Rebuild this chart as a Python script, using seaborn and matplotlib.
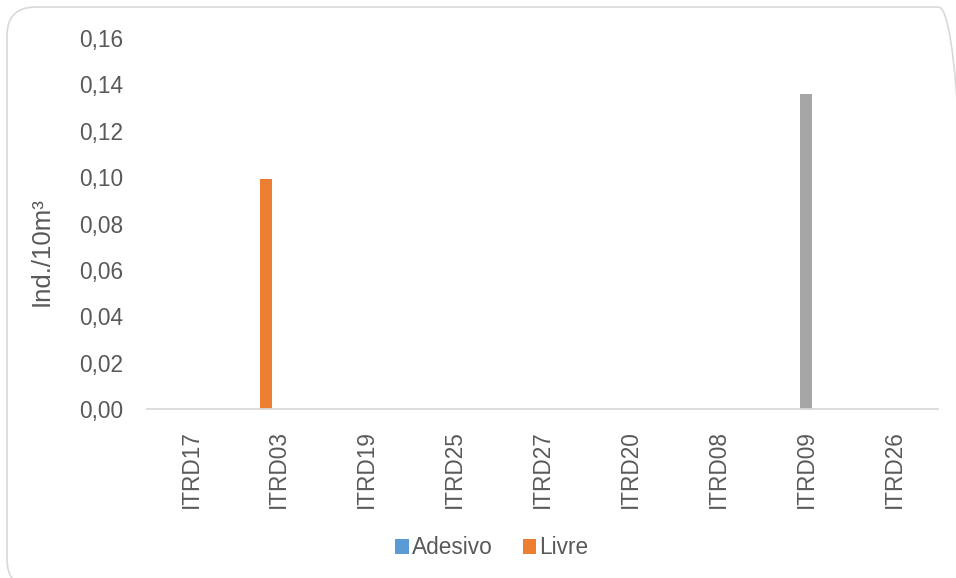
import matplotlib
matplotlib.use("Agg")
import matplotlib.pyplot as plt
from matplotlib.patches import Patch, FancyBboxPatch
from matplotlib.ticker import FuncFormatter, MultipleLocator
import seaborn as sns
import pandas as pd

# Density per station (Ind./10m3) for each sampling series
categories = ["ITRD17", "ITRD03", "ITRD19", "ITRD25", "ITRD27",
              "ITRD20", "ITRD08", "ITRD09", "ITRD26"]
adesivo = [0, 0, 0, 0, 0, 0, 0, 0, 0]
livre = [0, 0.099, 0, 0, 0, 0, 0, 0, 0]
serie3 = [0, 0, 0, 0, 0, 0, 0, 0.136, 0]

series_names = ["Livre", "Série 3", "Adesivo"]
series_colors = {"Adesivo": "#5B9BD5", "Livre": "#ED7D31", "Série 3": "#A5A5A5"}
legend_names = ["Adesivo", "Livre"]

df = pd.concat([
    pd.DataFrame({"estacao": categories, "serie": "Adesivo", "valor": adesivo}),
    pd.DataFrame({"estacao": categories, "serie": "Livre", "valor": livre}),
    pd.DataFrame({"estacao": categories, "serie": "Série 3", "valor": serie3}),
], ignore_index=True)

sns.set_theme(style="white")
plt.rcParams["font.family"] = ["Liberation Sans", "DejaVu Sans"]
text_color = "#595959"
fs = 16.3

fig = plt.figure(figsize=(9.56, 5.78), dpi=100)
ax = fig.add_axes([147 / 956, 1 - 409 / 578, 791 / 956, 371 / 578])

sns.barplot(data=df, x="estacao", y="valor", hue="serie", order=categories,
            hue_order=series_names, palette=series_colors, width=0.437,
            gap=0.06, linewidth=0, saturation=1, errorbar=None, legend=False,
            ax=ax)

ax.set_ylim(0, 0.16)
ax.yaxis.set_major_locator(MultipleLocator(0.02))
ax.yaxis.set_major_formatter(FuncFormatter(lambda v, _: f"{v:.2f}".replace(".", ",")))
ax.set_xlim(-0.5, len(categories) - 0.5)

for side in ["top", "right", "left"]:
    ax.spines[side].set_visible(False)
ax.spines["bottom"].set_color("#D9D9D9")
ax.spines["bottom"].set_linewidth(1.3)

ax.tick_params(axis="y", length=0, pad=17, labelsize=fs, labelcolor=text_color)
ax.tick_params(axis="x", length=0, pad=15, labelsize=fs, labelcolor=text_color,
               labelrotation=90)
ax.grid(False)

ax.set_xlabel("")
ax.set_ylabel("Ind./10m³", fontsize=18.5, color=text_color)
ax.yaxis.set_label_coords(-0.118, 0.425)

handles = [Patch(facecolor=series_colors[n], edgecolor="none") for n in legend_names]
fig.legend(handles, legend_names, loc="center", bbox_to_anchor=(492 / 956, 1 - 548 / 578),
           ncol=2, frameon=False, fontsize=fs, handlelength=0.6, handleheight=0.6,
           handletextpad=0.15, columnspacing=1.3, labelcolor=text_color)

# Chart border
border = FancyBboxPatch((7 / 956, -10 / 578), 960 / 956, 581 / 578,
                        boxstyle="round,pad=0,rounding_size=0.03",
                        transform=fig.transFigure, facecolor="none",
                        edgecolor="#D9D9D9", linewidth=1.2, zorder=-1,
                        mutation_aspect=956 / 578)
fig.patches.append(border)

fig.savefig("out.png", dpi=100, facecolor="white")
